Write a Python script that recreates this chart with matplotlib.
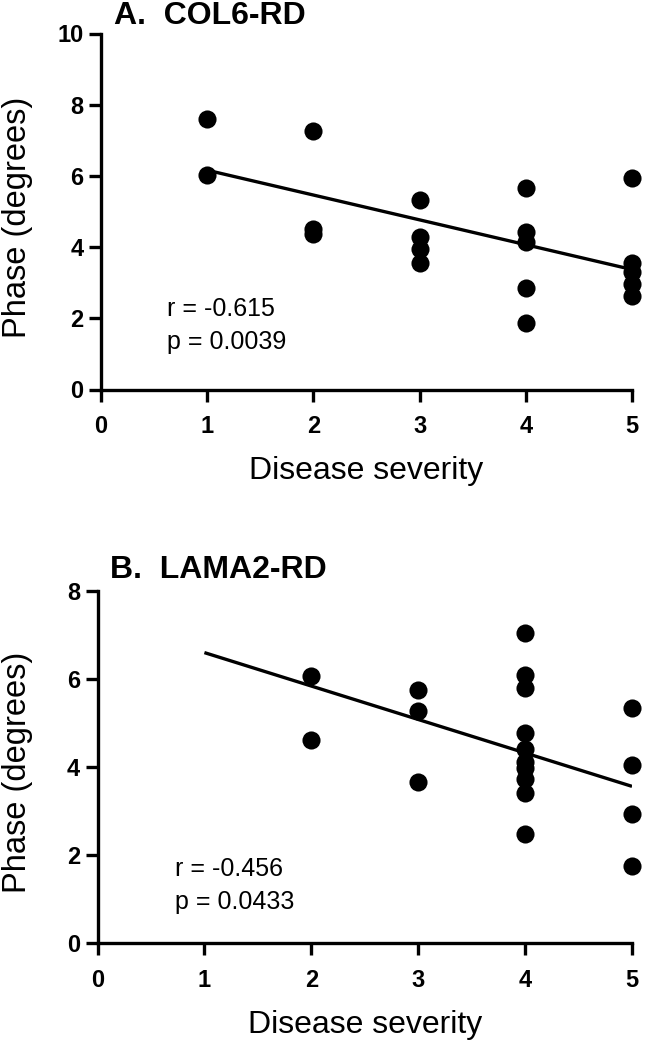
import matplotlib
matplotlib.use("Agg")
import matplotlib.pyplot as plt

plt.rcParams['font.family'] = ['Liberation Sans', 'DejaVu Sans']

# Panel A: COL6-RD
a_severity = [1, 1, 2, 2, 2, 3, 3, 3, 3, 4, 4, 4, 4, 4, 5, 5, 5, 5, 5]
a_phase = [7.6, 6.02, 7.25, 4.5, 4.38, 5.32, 4.27, 3.96, 3.55,
           5.67, 4.43, 4.15, 2.84, 1.86, 5.93, 3.56, 3.3, 2.96, 2.63]
a_fit_x = [1, 5]
a_fit_y = [6.16, 3.37]
a_title = "A.  COL6-RD"
a_stats = ["r = -0.615", "p = 0.0039"]
a_yticks = [0, 2, 4, 6, 8, 10]

# Panel B: LAMA2-RD
b_severity = [2, 2, 3, 3, 3, 4, 4, 4, 4, 4, 4, 4, 4, 4, 4, 5, 5, 5, 5]
b_phase = [6.07, 4.62, 5.75, 5.27, 3.65,
           7.05, 6.1, 5.79, 4.78, 4.4, 4.12, 3.98, 3.72, 3.4, 2.47,
           5.33, 4.04, 2.93, 1.76]
b_fit_x = [1, 5]
b_fit_y = [6.6, 3.56]
b_title = "B.  LAMA2-RD"
b_stats = ["r = -0.456", "p = 0.0433"]
b_yticks = [0, 2, 4, 6, 8]

xticks = [0, 1, 2, 3, 4, 5]
xlabel = "Disease severity"
ylabel = "Phase (degrees)"

W, H = 646, 1050
fig = plt.figure(figsize=(W / 100, H / 100), dpi=100)


def px_rect(l, t, r, b):
    return [l / W, 1 - b / H, (r - l) / W, (b - t) / H]


def panel(rect, sev, phase, fx, fy, title, stats, yticks, title_xy, stats_xy,
          xlab_y, ylab_y):
    ax = fig.add_axes(px_rect(*rect))
    ax.scatter(sev, phase, s=170, color='black', zorder=3, clip_on=False, linewidths=0)
    ax.plot(fx, fy, color='black', lw=2.4, zorder=2, solid_capstyle='butt')
    ax.set_xlim(0, 5)
    ax.set_ylim(0, yticks[-1])
    ax.set_xticks(xticks)
    ax.set_yticks(yticks)
    for s in ['top', 'right']:
        ax.spines[s].set_visible(False)
    for s in ['left', 'bottom']:
        ax.spines[s].set_linewidth(2.4)
    ax.tick_params(axis='both', direction='out', length=8.5, width=2.4,
                   labelsize=17)
    ax.tick_params(axis='x', pad=10)
    ax.tick_params(axis='y', pad=4)
    for lab in ax.get_xticklabels() + ax.get_yticklabels():
        lab.set_fontweight('bold')
    fig.text(18 / W, 1 - ylab_y / H, ylabel, fontsize=23.5, fontweight='medium',
             rotation=90, ha='center', va='center')
    fig.text((rect[0] + rect[2]) / 2 / W, 1 - xlab_y / H, xlabel,
             fontsize=23, ha='center', va='center')
    fig.text(title_xy[0] / W, 1 - title_xy[1] / H, title, fontsize=23,
             fontweight='bold', ha='left', va='center')
    fig.text(stats_xy[0] / W, 1 - stats_xy[1] / H, stats[0], fontsize=18,
             ha='left', va='center')
    fig.text(stats_xy[0] / W, 1 - (stats_xy[1] + 33) / H, stats[1], fontsize=18,
             ha='left', va='center')
    return ax


panel((101, 33.5, 632, 389.5), a_severity, a_phase, a_fit_x, a_fit_y, a_title,
      a_stats, a_yticks, (114, 16), (167, 309), 471, 217)
panel((97.5, 591, 632, 943), b_severity, b_phase, b_fit_x, b_fit_y, b_title,
      b_stats, b_yticks, (110, 570), (175, 869), 1025, 772)

fig.savefig("out.png", dpi=100)
